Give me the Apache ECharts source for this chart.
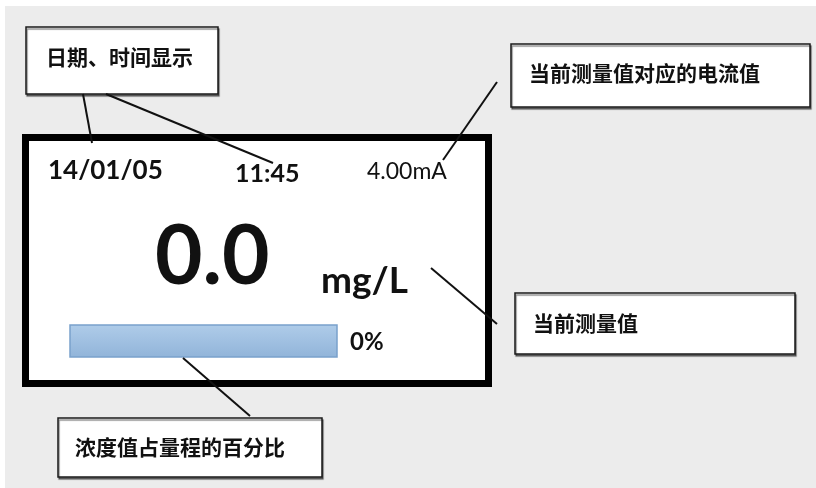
<!DOCTYPE html>
<html>
<head>
<meta charset="utf-8">
<script src="https://cdn.jsdelivr.net/npm/echarts@6/dist/echarts.min.js"></script>
<style>
  html, body { margin: 0; padding: 0; background: #fff; }
  #main { width: 816px; height: 488px; }
</style>
</head>
<body>
<div id="main"></div>
<script>
// 显示屏上的读数
const dateText = '14/01/05';
const timeText = '11:45';
const currentText = '4.00mA';
const measuredValue = [0.0];
const unitText = 'mg/L';
// 浓度值占量程的百分比
const barCategories = ['百分比'];
const percentValues = [0];
// 说明框文字
const calloutTexts = ['日期、时间显示', '当前测量值对应的电流值', '当前测量值', '浓度值占量程的百分比'];

const latin = 'Lato, "Open Sans", sans-serif';
const cjk = '"Noto Sans CJK SC", sans-serif';

const chart = echarts.init(document.getElementById('main'));

// 说明框
const calloutBox = (x, y, w, h, text, tx, ty) => ({
    type: 'group',
    children: [{
        type: 'rect',
        shape: { x: x, y: y, width: w, height: h },
        style: {
            fill: '#fff', stroke: '#1a1a1a', lineWidth: 1.5,
            shadowColor: 'rgba(0,0,0,0.45)', shadowOffsetX: 1, shadowOffsetY: 2, shadowBlur: 1
        },
        z: 2
    }, {
        type: 'text',
        style: { text: text, x: tx, y: ty, font: 'bold 21px ' + cjk, fill: '#111', textVerticalAlign: 'middle' },
        z: 3
    }]
});

// 引线
const leader = (x1, y1, x2, y2) => ({
    type: 'line',
    shape: { x1: x1, y1: y1, x2: x2, y2: y2 },
    style: { stroke: '#111', lineWidth: 2 },
    z: 10
});

const screenText = (text, x, y, font) => ({
    type: 'text',
    style: { text: text, x: x, y: y, font: font, fill: '#111', textVerticalAlign: 'middle' },
    z: 6
});

chart.setOption({
    animation: false,
    grid: { left: 70, top: 325, width: 267, height: 32 },
    xAxis: { type: 'value', min: 0, max: 100, show: false },
    yAxis: { type: 'category', data: barCategories, show: false },
    series: [{
        type: 'bar',
        data: percentValues,
        barWidth: 32,
        z: 8,
        itemStyle: { color: '#4f81bd' },
        showBackground: true,
        backgroundStyle: {
            color: new echarts.graphic.LinearGradient(0, 0, 0, 1, [
                { offset: 0, color: '#afcce9' },
                { offset: 1, color: '#91b4d9' }
            ]),
            borderColor: '#7aa1cb',
            borderWidth: 1.5
        }
    }],
    graphic: [
        // 灰色底
        {
            type: 'rect',
            shape: { x: 5, y: 6, width: 811, height: 482 },
            style: { fill: '#ececec' },
            z: 0
        },
        // 显示屏外框
        {
            type: 'rect',
            shape: { x: 25.5, y: 137.5, width: 463, height: 246 },
            style: { fill: '#fff', stroke: '#000', lineWidth: 7 },
            z: 1
        },
        screenText(dateText, 48, 171, 'bold 26px ' + latin),
        screenText(timeText, 235, 174, 'bold 25px ' + latin),
        screenText(currentText, 367, 172, '23px ' + latin),
        screenText(measuredValue[0].toFixed(1), 155, 258, 'bold 82px ' + latin),
        screenText(unitText, 321, 281, 'bold 37px ' + latin),
        screenText(percentValues[0] + '%', 350, 342, 'bold 24px ' + latin),
        calloutBox(26, 27, 192, 67, calloutTexts[0], 46, 57),
        calloutBox(511, 44, 299, 63, calloutTexts[1], 529, 73),
        calloutBox(515, 293, 280, 61, calloutTexts[2], 533, 323),
        calloutBox(58, 418, 264, 59, calloutTexts[3], 75, 447),
        leader(83, 94, 92, 143),
        leader(106, 94, 273, 163),
        leader(497, 82, 443, 160),
        leader(431, 268, 497, 324),
        leader(183, 358, 250, 416)
    ]
});
</script>
</body>
</html>
